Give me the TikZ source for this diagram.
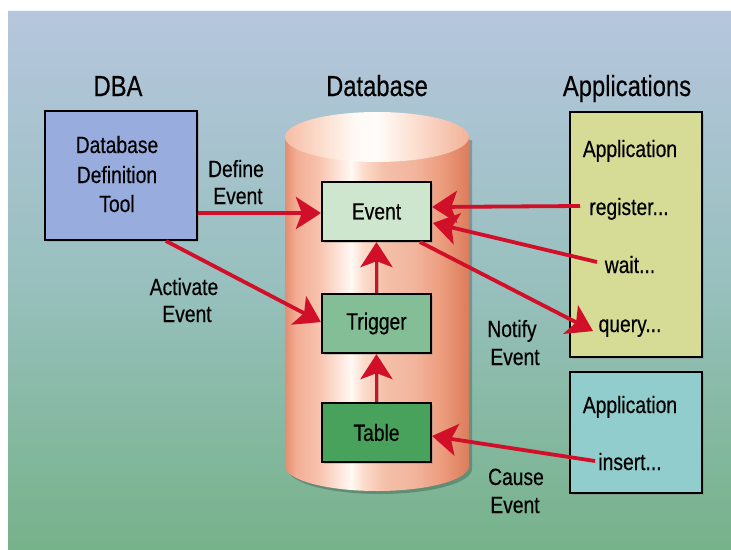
\documentclass[tikz,border=0pt]{standalone}
\usepackage{fontspec}
\setmainfont{Liberation Sans}[FakeStretch=0.82, FakeBold=0.4]
\usetikzlibrary{arrows.meta,shadows,calc}

\definecolor{bgtop}{RGB}{182,198,222}
\definecolor{bgmid}{RGB}{152,192,190}
\definecolor{bgbot}{RGB}{118,178,138}
\definecolor{dbafill}{RGB}{152,172,222}
\definecolor{evfill}{RGB}{205,230,205}
\definecolor{trfill}{RGB}{132,190,150}
\definecolor{tbfill}{RGB}{72,162,92}
\definecolor{appfill}{RGB}{214,220,150}
\definecolor{insfill}{RGB}{145,205,205}
\definecolor{arrred}{RGB}{210,15,40}

% cylinder body and lid shadings (path box maps to 25bp..75bp)
\pgfdeclarehorizontalshading{cylbody}{100bp}{
  rgb(0bp)=(0.90,0.55,0.44);
  rgb(25bp)=(0.90,0.55,0.44);
  rgb(28bp)=(0.95,0.68,0.58);
  rgb(34bp)=(0.97,0.76,0.68);
  rgb(39bp)=(0.99,0.88,0.83);
  rgb(43bp)=(1,0.98,0.96);
  rgb(46bp)=(0.99,0.87,0.81);
  rgb(52bp)=(0.96,0.75,0.66);
  rgb(60bp)=(0.95,0.71,0.62);
  rgb(67bp)=(0.93,0.62,0.50);
  rgb(75bp)=(0.86,0.49,0.36);
  rgb(100bp)=(0.86,0.49,0.36)}
\pgfdeclarehorizontalshading{cyllid}{100bp}{
  rgb(0bp)=(0.96,0.74,0.65);
  rgb(25bp)=(0.96,0.74,0.65);
  rgb(35bp)=(0.99,0.87,0.81);
  rgb(44bp)=(1,0.98,0.96);
  rgb(50bp)=(1,0.99,0.98);
  rgb(58bp)=(0.99,0.90,0.85);
  rgb(75bp)=(0.95,0.70,0.60);
  rgb(100bp)=(0.95,0.70,0.60)}

\tikzset{
  boxed/.style={draw=black, line width=2.2pt, minimum width=109pt, minimum height=59pt,
    inner sep=0pt, font=\fontsize{23.5}{26}\selectfont,
    drop shadow={opacity=0.35, shadow xshift=2pt, shadow yshift=-2pt}},
  title/.style={anchor=base, font=\fontsize{29}{32}\selectfont},
  txt/.style={anchor=base, inner sep=0pt, font=\fontsize{23.5}{26}\selectfont},
  flow/.style={draw=arrred, line width=3.8pt,
    -{Stealth[length=25pt, width=32pt, inset=6pt]},
    preaction={draw=black!70, opacity=0.3, transform canvas={shift={(1.5pt,-1.5pt)}}}},
}

\begin{document}
\begin{tikzpicture}[x=1pt, y=-1pt]
\useasboundingbox (0,0) rectangle (731,549);
\fill[white] (0,0) rectangle (731,549);

% backdrop panel
\shade[top color=bgtop, bottom color=bgbot, middle color=bgmid] (8,10) rectangle (731,549);
\draw[white!85!bgtop, line width=1pt] (8,10.5) -- (731,10.5);

% column headings
\node[title] (hdba) at (118,96) {DBA};
\node[title] (hdb)  at (377,96) {Database};
\node[title] (happ) at (627,96) {Applications};

% database cylinder
\fill[black, opacity=0.22] (288,140) -- (288,469) arc[start angle=180, end angle=360, x radius=92pt, y radius=25pt] -- (472,140) -- cycle;
\shade[shading=cylbody] (285,137) -- (285,466)
  arc[start angle=180, end angle=360, x radius=92pt, y radius=25pt] -- (469,137) -- cycle;
\shade[shading=cyllid] (377,137) ellipse[x radius=92pt, y radius=25pt];

% DBA tool
\node[boxed, fill=dbafill, minimum width=152pt, minimum height=129pt] (tool) at (121,175.5) {};
\node[txt] (t1) at (117,153) {Database};
\node[txt] (t2) at (117,183) {Definition};
\node[txt] (t3) at (117,212) {Tool};

% database objects
\node[boxed, fill=evfill] (event)   at (376.5,211.5) {Event};
\node[boxed, fill=trfill] (trigger) at (376.5,323.5) {Trigger};
\node[boxed, fill=tbfill] (table)   at (376.5,432.5) {Table};

% applications
\node[boxed, fill=appfill, minimum width=132pt, minimum height=245pt] (app1) at (636,234.5) {};
\node[boxed, fill=insfill, minimum width=132pt, minimum height=121pt] (app2) at (636,432.5) {};
\node[txt] (a1) at (630,157) {Application};
\node[txt] (reg) at (629,215) {register...};
\node[txt] (wait) at (630,273) {wait...};
\node[txt] (query) at (630,332) {query...};
\node[txt] (a2) at (630,413) {Application};
\node[txt] (ins) at (630,470) {insert...};

% connector labels
\node[txt] (l1) at (236,177) {Define};
\node[txt] (l2) at (238,204) {Event};
\node[txt] (l3) at (184,295) {Activate};
\node[txt] (l4) at (187,322) {Event};
\node[txt] (l5) at (512,337) {Notify};
\node[txt] (l6) at (515,365) {Event};
\node[txt] (l7) at (516,485) {Cause};
\node[txt] (l8) at (515,513) {Event};

% anchor points on the boxes
\coordinate (toolR) at (tool.east |- 0,213);
\coordinate (toolB) at (166,241);
\coordinate (evL) at (event.west |- 0,213);
\coordinate (evR1) at (event.east |- 0,207);
\coordinate (evR2) at (433,223);
\coordinate (evB) at (420,242);
\coordinate (trL) at (trigger.west |- 0,322);
\coordinate (tbR) at (table.east |- 0,436);
\coordinate (regL) at (580,206);
\coordinate (waitL) at (597,262);
\coordinate (queryL) at (593,331);
\coordinate (insL) at (595,461);

% flows
\draw[flow] (toolR) -- (evL);
\draw[flow] (toolB) -- (trL);
\draw[flow] (regL) -- (evR1);
\draw[flow] (waitL) -- (evR2);
\draw[flow] (evB) -- (queryL);
\draw[flow] (insL) -- (tbR);
\draw[flow] (trigger.north) -- (event.south);
\draw[flow] (table.north) -- (trigger.south);
\end{tikzpicture}
\end{document}
